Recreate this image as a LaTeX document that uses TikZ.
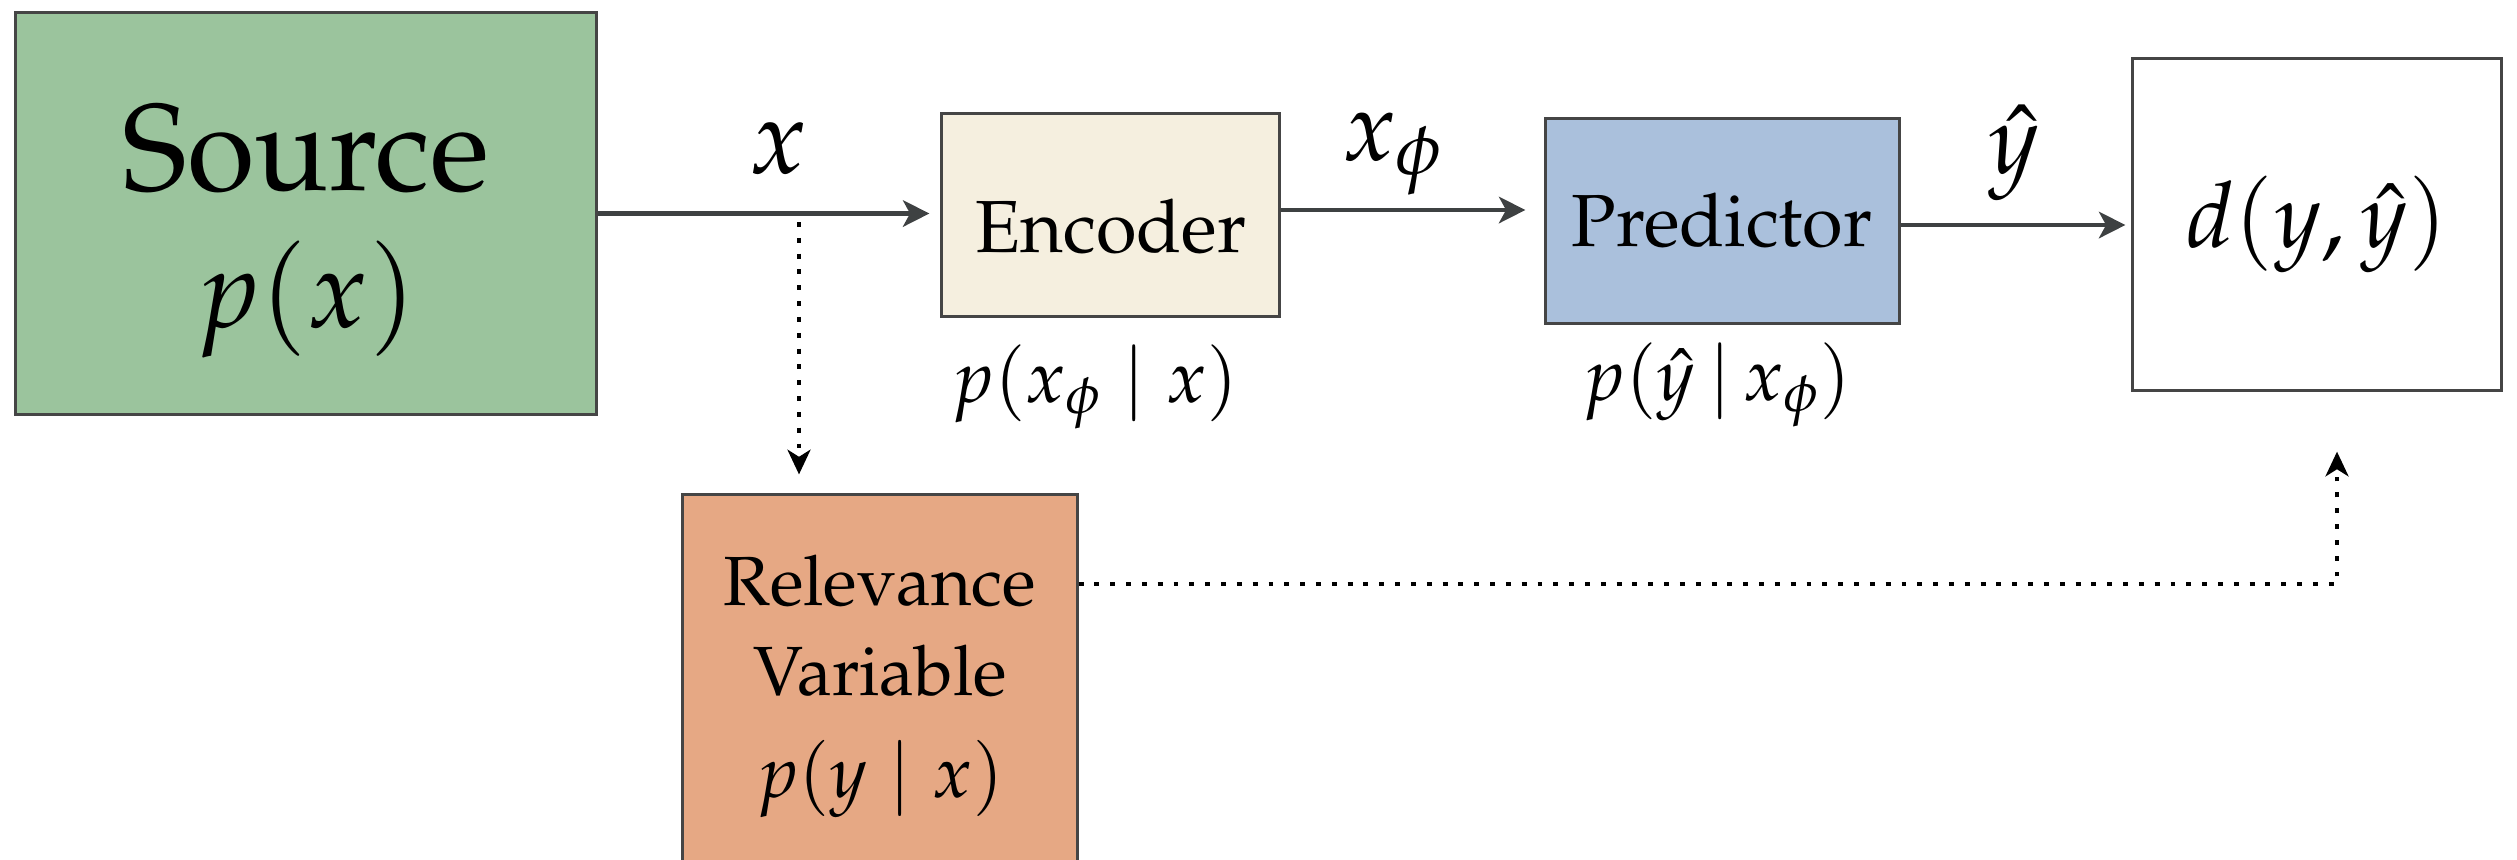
\documentclass[tikz,border=0pt]{standalone}
\usepackage[T1]{fontenc}
\usepackage{mathpazo}
\usetikzlibrary{arrows.meta}
\definecolor{srcgreen}{HTML}{9BC49D}
\definecolor{encbeige}{HTML}{F5EFDF}
\definecolor{predblue}{HTML}{AAC0DC}
\definecolor{relorange}{HTML}{E6A884}
\definecolor{edgegray}{HTML}{454545}
\definecolor{arrowgray}{HTML}{3E4142}
\newcommand{\fs}[1]{\fontsize{#1}{1.2\dimexpr#1\relax}\selectfont}
\begin{document}
\begin{tikzpicture}[x=0.01cm,y=-0.01cm,
  box/.style={draw=edgegray, line width=0.85pt, rectangle, inner sep=0pt},
  txt/.style={anchor=base, inner sep=0pt},
  solidarrow/.style={draw=arrowgray, line width=1.4pt, -{Stealth[length=7.5pt,width=7.5pt,inset=2pt]}},
  dotarrow/.style={draw=black, line width=1.4pt, dash pattern=on 1.4pt off 3.1pt, -{Stealth[length=7pt,width=6.5pt,inset=2pt]}}]
\useasboundingbox (0,0) rectangle (2517,859);
% boxes
\node[box, fill=srcgreen, minimum width=5.80cm, minimum height=4.01cm] (src) at (306,213.5) {};
\node[box, fill=encbeige, minimum width=3.37cm, minimum height=2.02cm] (enc) at (1110.5,215) {};
\node[box, fill=predblue, minimum width=3.53cm, minimum height=2.04cm] (pred) at (1722.5,221) {};
\node[box, fill=white, minimum width=3.68cm, minimum height=3.31cm] (dbox) at (2317,224.5) {};
\node[box, fill=relorange, minimum width=3.94cm, minimum height=3.80cm] (rel) at (880,685) {};
% texts
\node[txt] (srct) at (306,190) {\fs{35pt}Source};
\node[txt] (srcp) at (306,327) {\fs{31.5pt}$p(x)$};
\node[txt] (enct) at (1111,252) {\fs{21pt}Encoder};
\node[txt] (predt) at (1722,246) {\fs{21pt}Predictor};
\node[txt] (dt) at (2317,247) {\fs{26pt}$d(y,\hat{y})$};
\node[txt] (encp) at (1095,402) {\fs{21pt}$p(x_\phi \mid x)$};
\node[txt] (predp) at (1717,400) {\fs{21pt}$p(\hat{y}\,|\,x_\phi)$};
\node[txt] (relt1) at (880,605) {\fs{19.8pt}Relevance};
\node[txt] (relt2) at (880,695) {\fs{19.8pt}Variable};
\node[txt] (relp) at (880,797) {\fs{20.8pt}$p(y \mid x)$};
\node[txt] (lx) at (778,173) {\fs{30pt}$x$};
\node[txt] (lxphi) at (1393,160) {\fs{28pt}$x_\phi$};
\node[txt] (lyhat) at (2014,173) {\fs{28pt}$\hat{y}$};
% connectors
\draw[solidarrow, shorten >=0.11cm] (src.east) -- (src.east -| enc.west);
\draw[solidarrow, shorten >=0.19cm] ([yshift=0.05cm]enc.east) -- ([yshift=0.05cm]enc.east -| pred.west);
\draw[solidarrow, shorten >=0.06cm] ([yshift=-0.04cm]pred.east) -- ([yshift=-0.04cm]pred.east -| dbox.west);
\coordinate (branch) at (799,222);
\draw[dotarrow, shorten >=0.19cm] (branch) -- (branch |- rel.north);
\coordinate (corner) at (2337,584);
\draw[dotarrow, shorten >=0.6cm] (rel.north east |- corner) -- (corner) -- (corner |- dbox.south);
\end{tikzpicture}
\end{document}
